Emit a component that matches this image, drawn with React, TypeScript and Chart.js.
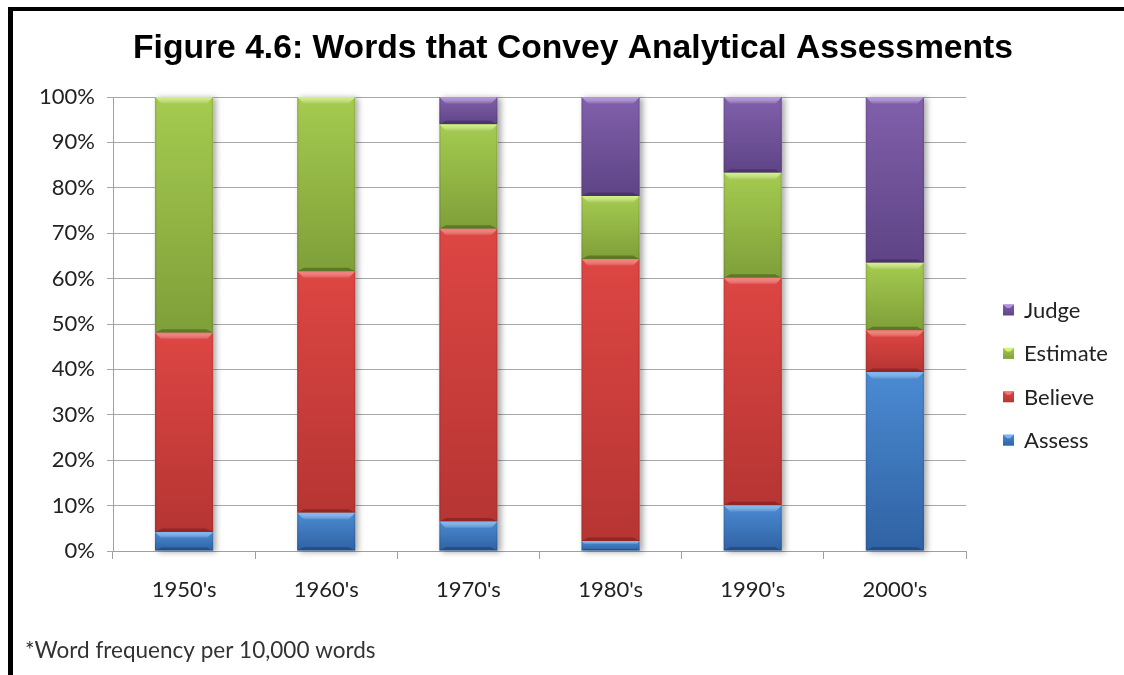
import React, { useEffect, useRef } from "react";
import { Chart, registerables } from "chart.js";

Chart.register(...registerables);

const categories = ["1950's", "1960's", "1970's", "1980's", "1990's", "2000's"];
const assess = [4.2, 8.4, 6.5, 2.2, 10.1, 39.4];
const believe = [43.9, 53.2, 64.5, 62.1, 50.1, 9.2];
const estimate = [51.9, 38.4, 23.0, 13.9, 23.1, 14.9];
const judge = [0, 0, 6.0, 21.8, 16.7, 36.5];
const seriesNames = ["Assess", "Believe", "Estimate", "Judge"];
const yTicks = [0, 10, 20, 30, 40, 50, 60, 70, 80, 90, 100];
const titleText = "Figure 4.6: Words that Convey Analytical Assessments";
const footnoteText = "*Word frequency per 10,000 words";

const seriesValues = [assess, believe, estimate, judge];

const palette = [
  { light: "#4b8ad2", dark: "#2f62a3", bevel: "rgba(130,190,250,0.85)", edge: "rgba(20,50,100,0.45)" },
  { light: "#dd4643", dark: "#b63533", bevel: "rgba(250,130,125,0.85)", edge: "rgba(100,20,20,0.45)" },
  { light: "#a5cb50", dark: "#7f9f39", bevel: "rgba(220,250,130,0.85)", edge: "rgba(60,80,20,0.5)" },
  { light: "#8160ab", dark: "#5e4486", bevel: "rgba(190,155,235,0.85)", edge: "rgba(50,30,80,0.45)" },
];

const TEXT_FONT = "Lato, 'Noto Sans', sans-serif";

const makeFill = (di: number) => (ctx: any) => {
  const chart = ctx.chart;
  const area = chart.chartArea;
  const c = palette[di];
  if (!area || ctx.type !== "data") return c.light;
  const ys = chart.scales.y;
  const i = ctx.dataIndex;
  let lo = 0;
  for (let k = 0; k < di; k++) lo += seriesValues[k][i];
  const hi = lo + seriesValues[di][i];
  const y0 = ys.getPixelForValue(hi);
  const y1 = ys.getPixelForValue(lo);
  if (!(y1 > y0 + 0.5)) return c.light;
  const g = chart.ctx.createLinearGradient(0, y0, 0, y1);
  g.addColorStop(0, c.light);
  g.addColorStop(1, c.dark);
  return g;
};

const decorPlugin = {
  id: "decor",
  beforeDraw(chart: any) {
    const ctx = chart.ctx;
    ctx.save();
    ctx.fillStyle = "#ffffff";
    ctx.fillRect(0, 0, chart.width, chart.height);
    ctx.fillStyle = "#000000";
    ctx.fillRect(8, 7, chart.width - 8, 4);
    ctx.fillRect(8, 7, 5, chart.height - 7);
    ctx.restore();
  },
  beforeDatasetsDraw(chart: any) {
    const ctx = chart.ctx;
    const metas = seriesValues.map((_, di) => chart.getDatasetMeta(di));
    ctx.save();
    categories.forEach((_, i) => {
      let top = Infinity;
      let bottom = -Infinity;
      let x = 0;
      let w = 0;
      metas.forEach((m: any) => {
        const el = m.data[i];
        if (!el) return;
        const p = el.getProps(["x", "y", "base", "width"], true);
        top = Math.min(top, p.y, p.base);
        bottom = Math.max(bottom, p.y, p.base);
        x = p.x;
        w = p.width;
      });
      if (!isFinite(top)) return;
      ctx.shadowColor = "rgba(0,0,0,0.35)";
      ctx.shadowBlur = 6;
      ctx.shadowOffsetX = 3;
      ctx.shadowOffsetY = 1;
      ctx.fillStyle = "#ffffff";
      ctx.fillRect(x - w / 2, top, w, bottom - top);
    });
    ctx.restore();
  },
  afterDatasetsDraw(chart: any) {
    const ctx = chart.ctx;
    ctx.save();
    seriesValues.forEach((_, di) => {
      const meta = chart.getDatasetMeta(di);
      const c = palette[di];
      meta.data.forEach((el: any) => {
        const p = el.getProps(["x", "y", "base", "width"], true);
        const left = p.x - p.width / 2;
        const right = p.x + p.width / 2;
        const top = Math.min(p.y, p.base);
        const bot = Math.max(p.y, p.base);
        const h = bot - top;
        if (h < 1) return;
        const b = Math.min(7, h / 3);
        const tg = ctx.createLinearGradient(0, top, 0, top + b);
        tg.addColorStop(0, c.bevel);
        tg.addColorStop(1, "rgba(255,255,255,0)");
        ctx.fillStyle = tg;
        ctx.beginPath();
        ctx.moveTo(left, top);
        ctx.lineTo(right, top);
        ctx.lineTo(right - b, top + b);
        ctx.lineTo(left + b, top + b);
        ctx.closePath();
        ctx.fill();
        ctx.fillStyle = c.edge;
        ctx.beginPath();
        ctx.moveTo(left, bot);
        ctx.lineTo(right, bot);
        ctx.lineTo(right - b, bot - b * 0.5);
        ctx.lineTo(left + b, bot - b * 0.5);
        ctx.closePath();
        ctx.fill();
        ctx.globalAlpha = 0.3;
        ctx.fillRect(left, top, 1.5, h);
        ctx.fillRect(right - 1.5, top, 1.5, h);
        ctx.globalAlpha = 1;
      });
    });
    ctx.restore();
  },
  afterDraw(chart: any) {
    const ctx = chart.ctx;
    ctx.save();
    ctx.fillStyle = "#000000";
    ctx.font = "bold 33px 'Liberation Sans', Arial, sans-serif";
    ctx.textBaseline = "middle";
    ctx.textAlign = "center";
    const tw = ctx.measureText(titleText).width;
    const target = 880;
    ctx.translate(573, 49);
    ctx.scale(target / tw, 1);
    ctx.fillText(titleText, 0, 0);
    ctx.setTransform(1, 0, 0, 1, 0, 0);
    ctx.restore();

    ctx.save();
    ctx.font = "22px " + TEXT_FONT;
    ctx.textBaseline = "middle";
    ctx.textAlign = "left";
    const order = [3, 2, 1, 0];
    order.forEach((di, k) => {
      const yc = 310 + k * 43.4;
      const c = palette[di];
      const g = ctx.createLinearGradient(0, yc - 6, 0, yc + 6);
      g.addColorStop(0, c.light);
      g.addColorStop(1, c.dark);
      ctx.fillStyle = g;
      ctx.fillRect(1003, yc - 5.5, 11, 11);
      ctx.fillStyle = c.bevel;
      ctx.beginPath();
      ctx.moveTo(1003, yc - 5.5);
      ctx.lineTo(1014, yc - 5.5);
      ctx.lineTo(1010, yc - 2);
      ctx.lineTo(1007, yc - 2);
      ctx.closePath();
      ctx.fill();
      ctx.fillStyle = "#222222";
      ctx.fillText(seriesNames[di], 1024, yc + 1);
    });
    ctx.font = "22.5px " + TEXT_FONT;
    ctx.fillStyle = "#333333";
    ctx.fillText(footnoteText, 25, 651);
    ctx.restore();
  },
};

export default function App() {
  const canvasRef = useRef<HTMLCanvasElement | null>(null);

  useEffect(() => {
    if (!canvasRef.current) return;
    const chart = new Chart(canvasRef.current, {
      type: "bar",
      data: {
        labels: categories,
        datasets: seriesValues.map((vals, di) => ({
          label: seriesNames[di],
          data: vals,
          backgroundColor: makeFill(di),
          borderWidth: 0,
          barPercentage: 0.41,
          categoryPercentage: 1.0,
        })),
      },
      options: {
        responsive: false,
        animation: false,
        events: [],
        layout: { padding: { left: 0, right: 158, top: 97, bottom: 0 } },
        plugins: {
          legend: { display: false },
          title: { display: false },
          tooltip: { enabled: false },
        },
        scales: {
          x: {
            stacked: true,
            offset: true,
            grid: {
              display: true,
              offset: true,
              drawOnChartArea: false,
              drawTicks: true,
              tickLength: 8,
              color: "#a0a0a0",
            },
            border: { display: true, color: "#a0a0a0" },
            ticks: {
              padding: 18,
              color: "#222222",
              font: { family: TEXT_FONT, size: 22 },
            },
            afterFit: (s: any) => {
              s.height = 124;
            },
          },
          y: {
            stacked: true,
            min: 0,
            max: 100,
            afterBuildTicks: (s: any) => {
              s.ticks = yTicks.map((v) => ({ value: v }));
            },
            ticks: {
              padding: 12,
              color: "#222222",
              font: { family: TEXT_FONT, size: 22 },
              callback: (v: any) => `${v}%`,
            },
            grid: { color: "#a8a8a8", tickLength: 6, lineWidth: 1 },
            border: { display: true, color: "#a0a0a0" },
            afterFit: (s: any) => {
              s.width = 113;
            },
          },
        },
      },
      plugins: [decorPlugin],
    });
    return () => chart.destroy();
  }, []);

  return (
    <div style={{ position: "absolute", left: 0, top: 0, width: 1124, height: 675, background: "#fff" }}>
      <canvas ref={canvasRef} width={1124} height={675} style={{ display: "block", width: 1124, height: 675 }} />
    </div>
  );
}
